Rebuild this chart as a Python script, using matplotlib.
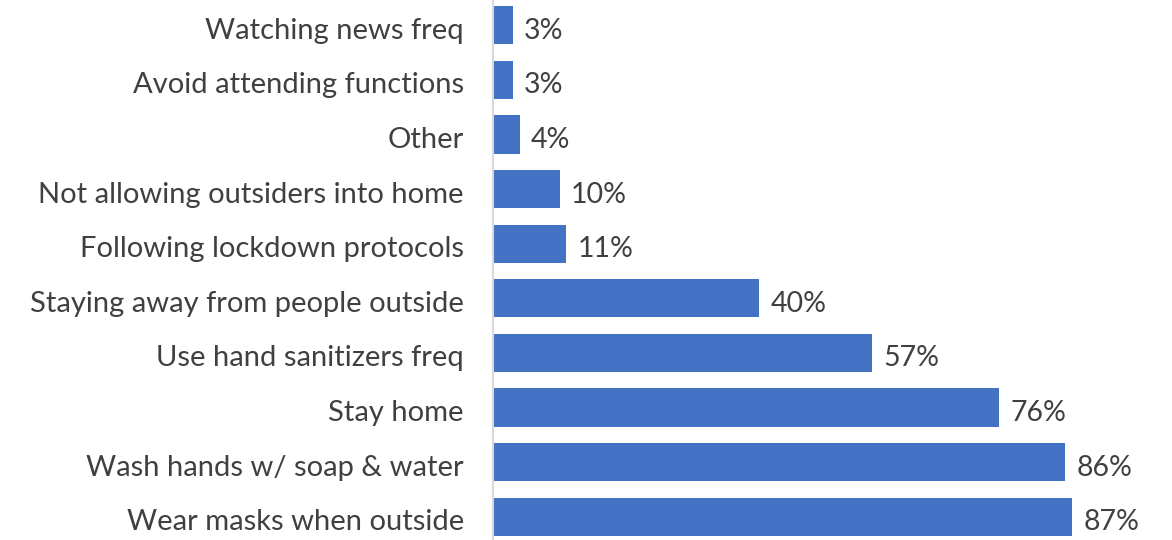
import matplotlib.pyplot as plt
from matplotlib.transforms import ScaledTranslation

# Precautions taken, top to bottom as drawn
categories = [
    "Watching news freq",
    "Avoid attending functions",
    "Other",
    "Not allowing outsiders into home",
    "Following lockdown protocols",
    "Staying away from people outside",
    "Use hand sanitizers freq",
    "Stay home",
    "Wash hands w/ soap & water",
    "Wear masks when outside",
]
shares = [3, 3, 4, 10, 11, 40, 57, 76, 86, 87]

BAR = "#4472C4"
TEXT = "#404040"
AXIS = "#D9D9D9"

plt.rcParams["font.family"] = ["Lato", "DejaVu Sans"]

fig = plt.figure(figsize=(11.72, 5.4), dpi=100)
ax = fig.add_axes([493 / 1172, -4 / 540, (1172 - 493) / 1172, 546 / 540])

ypos = list(range(len(categories)))
ax.barh(ypos, shares, height=0.7, color=BAR)
ax.set_ylim(len(categories) - 0.5, -0.5)
ax.set_xlim(0, 102)

for y, v in zip(ypos, shares):
    ax.annotate(f"{v}%", (v, y), xytext=(8, -4), textcoords="offset points",
                va="center", ha="left", fontsize=20.5, color=TEXT)

ax.set_yticks(ypos)
ax.set_yticklabels(categories, fontsize=21, color=TEXT)
ax.tick_params(axis="y", length=0, pad=21)
# nudge category names down a touch so they sit level with the bars
shift = ScaledTranslation(0, -3 / 100, fig.dpi_scale_trans)
for lbl in ax.get_yticklabels():
    lbl.set_transform(lbl.get_transform() + shift)
ax.set_xticks([])
for side in ("top", "right", "bottom"):
    ax.spines[side].set_visible(False)
ax.spines["left"].set_color(AXIS)
ax.spines["left"].set_linewidth(1.5)

fig.savefig("out.png", dpi=100, facecolor="white")
